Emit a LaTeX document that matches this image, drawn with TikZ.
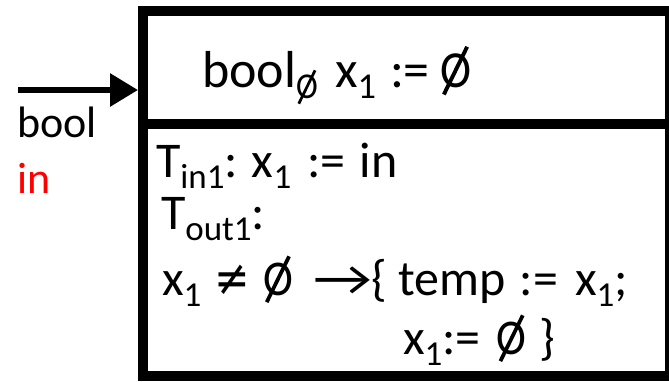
\documentclass[tikz,border=0pt]{standalone}
\usepackage{fontspec}
\usepackage{graphicx}
\setmainfont{Carlito}
\newfontfamily\symfont{DejaVu Sans}
\usetikzlibrary{arrows.meta}
\newcommand\dn[1]{\raisebox{-0.22em}{\scalebox{0.7}{#1}}}
\newcommand\es{\ooalign{\scalebox{0.9}[1]{O}\cr\hidewidth\raisebox{-0.16em}{\rotatebox{64}{\rule{1.02em}{0.075em}}}\hidewidth\cr}}
\newcommand\nq{\scalebox{0.85}[1]{\symfont ≠}}
\newcommand\ar{\scalebox{1.3}[1]{→}}
\newcommand\at[2]{\makebox[#1][l]{#2}}
\begin{document}
\begin{tikzpicture}[x=1pt,y=-1pt,
  txt/.style={anchor=base west,inner sep=0pt,outer sep=0pt},
  big/.style={txt,font=\fontsize{52}{60}\selectfont},
  mid/.style={txt,font=\fontsize{50}{58}\selectfont},
  lbl/.style={txt,font=\fontsize{44}{52}\selectfont}]
\useasboundingbox (0,0) rectangle (669,381);
\node[draw,line width=10pt,minimum width=527pt,minimum height=365pt,inner sep=0pt] (box) at (406.5,193.5) {};
\coordinate (dl) at (143,124);
\coordinate (dr) at (670,124);
\draw[line width=10pt] (dl) -- (dr);
\coordinate (src) at (18,90);
\draw[line width=6pt,-{Triangle[length=28pt,width=32pt]}] (src) -- (box.west |- src);
\node[lbl] (lb) at (17,137) {bool};
\node[lbl,text=red] (li) at (17,193) {in};
\node[big] (decl) at (202,87) {\at{133pt}{bool\dn{\es}}\at{55pt}{x\dn{1}}\at{50pt}{:=}\es};
\node[mid] (t1) at (156,177) {T\dn{in1}:\hspace{14pt}x\dn{1}\hspace{16pt}:=\hspace{14pt}in};
\node[mid] (t2) at (161,229) {T\dn{out1}:};
\node[mid] (t3) at (162,295) {\at{52pt}{x\dn{1}}\at{49pt}{\nq}\at{50pt}{\es}\at{58pt}{\ar}\at{149pt}{\{ temp}\at{55pt}{:=}x\dn{1};};
\node[mid] (t4) at (403,354) {x\dn{1}:=\hspace{16pt}\es\hspace{13pt}\}};
\end{tikzpicture}
\end{document}
